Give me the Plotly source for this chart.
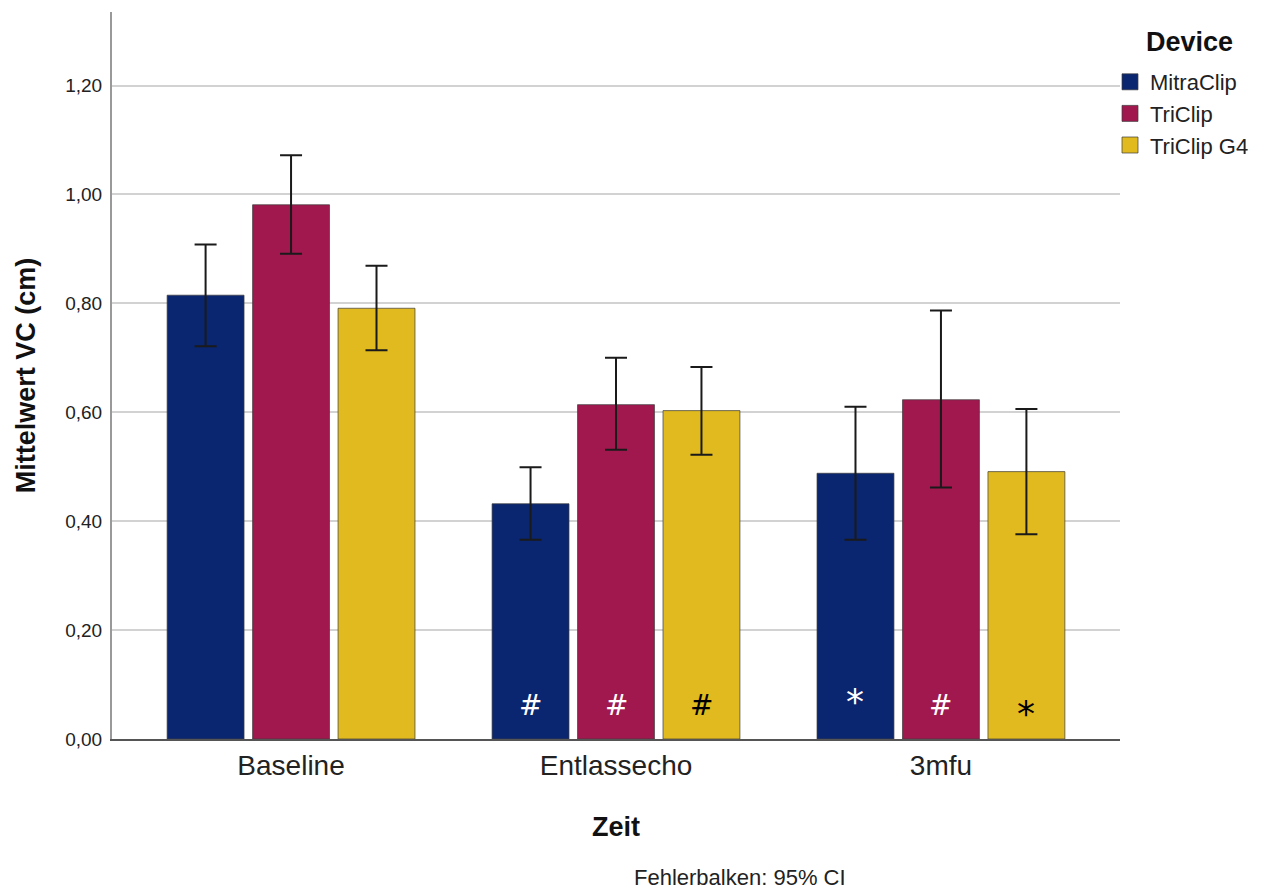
import plotly.graph_objects as go

# Mean vena contracta (cm) by time point and device, with 95% CI bounds
zeitpunkte = ["Baseline", "Entlassecho", "3mfu"]
devices = ["MitraClip", "TriClip", "TriClip G4"]
colors = ["#0b2670", "#a0184e", "#e0ba1e"]

mitraclip_mean = [0.815, 0.432, 0.488]
mitraclip_upper = [0.908, 0.499, 0.610]
mitraclip_lower = [0.721, 0.366, 0.366]

triclip_mean = [0.981, 0.614, 0.623]
triclip_upper = [1.072, 0.700, 0.787]
triclip_lower = [0.891, 0.531, 0.462]

g4_mean = [0.791, 0.603, 0.491]
g4_upper = [0.869, 0.683, 0.606]
g4_lower = [0.714, 0.522, 0.376]

# Significance markers shown inside each bar (per device, per time point)
mitraclip_marks = ["", "#", "*"]
triclip_marks = ["", "#", "#"]
g4_marks = ["", "#", "*"]

means = [mitraclip_mean, triclip_mean, g4_mean]
uppers = [mitraclip_upper, triclip_upper, g4_upper]
lowers = [mitraclip_lower, triclip_lower, g4_lower]
marks = [mitraclip_marks, triclip_marks, g4_marks]
mark_colors = ["white", "white", "black"]

FONT = "Liberation Sans, Arial, sans-serif"
W, H = 1268, 892
ML, MR, MT, MB = 112, 148, 12, 153
PW, PH = W - ML - MR, H - MT - MB


def px_x(x):
    return (x - ML) / PW


def px_y(y):
    return (H - MB - y) / PH


fig = go.Figure()
for name, col, m, up, lo in zip(devices, colors, means, uppers, lowers):
    fig.add_trace(go.Bar(
        name=name,
        x=zeitpunkte,
        y=m,
        showlegend=False,
        marker=dict(color=col, line=dict(color="rgba(60,60,60,0.7)", width=1)),
        error_y=dict(
            type="data",
            symmetric=False,
            array=[u - v for u, v in zip(up, m)],
            arrayminus=[v - l for v, l in zip(m, lo)],
            color="#1a1a1a",
            thickness=2,
            width=11,
        ),
    ))

# Legend entries with larger square swatches
for name, col in zip(devices, colors):
    fig.add_trace(go.Scatter(
        name=name, x=[None], y=[None], mode="markers",
        marker=dict(symbol="square", size=16, color=col,
                    line=dict(color="rgba(60,60,60,0.7)", width=1)),
    ))

# Place markers at the centre of each bar within its group
group_width = 0.789
slot = group_width / len(devices)
for j, (mk, mc) in enumerate(zip(marks, mark_colors)):
    offset = -group_width / 2 + slot * (j + 0.5)
    for i, t in enumerate(mk):
        if not t:
            continue
        star = t == "*"
        fig.add_annotation(
            x=i + offset, y=0.062, xref="x", yref="y",
            text=t, showarrow=False,
            font=dict(family="DejaVu Sans, sans-serif",
                      size=36 if star else 28, color=mc),
            yshift=(4 if mc == "white" else -8) if star else 0,
        )

# Legend heading
fig.add_annotation(
    x=px_x(1189), y=px_y(42), xref="paper", yref="paper",
    xanchor="center", yanchor="middle", text="<b>Device</b>",
    showarrow=False, font=dict(family=FONT, size=27, color="#111"),
)

# Footnote
fig.add_annotation(
    x=px_x(740), y=px_y(877), xref="paper", yref="paper",
    yanchor="middle", text="Fehlerbalken: 95% CI",
    showarrow=False, font=dict(family=FONT, size=22, color="#222"),
)

fig.update_layout(
    width=W, height=H,
    margin=dict(l=ML, r=MR, t=MT, b=MB),
    paper_bgcolor="white", plot_bgcolor="white",
    separators=",.",
    barmode="group",
    bargap=0.211,
    bargroupgap=0.1,
    font=dict(family=FONT, color="#222"),
    legend=dict(
        x=px_x(1110), xanchor="left", y=px_y(61), yanchor="top",
        font=dict(size=22, color="#222"),
        bgcolor="rgba(0,0,0,0)",
        itemwidth=30,
        tracegroupgap=0,
    ),
    xaxis=dict(
        type="category",
        range=[-0.551, 2.551],
        showline=True, linecolor="#555", linewidth=2,
        ticks="", tickfont=dict(size=28, color="#222"),
        title=dict(text="<b>Zeit</b>", font=dict(size=27, color="#111"), standoff=38),
    ),
    yaxis=dict(
        range=[0, 1.335],
        tickvals=[0, 0.2, 0.4, 0.6, 0.8, 1.0, 1.2],
        tickformat=".2f",
        showgrid=True, gridcolor="#d2d2d2", gridwidth=2,
        showline=True, linecolor="#999", linewidth=2,
        zeroline=False,
        ticks="", tickfont=dict(size=19, color="#222"),
        ticklabelstandoff=4,
        title=dict(text="<b>Mittelwert VC (cm)</b>", font=dict(size=27, color="#111"), standoff=22),
    ),
)

fig.write_html("out.html")
